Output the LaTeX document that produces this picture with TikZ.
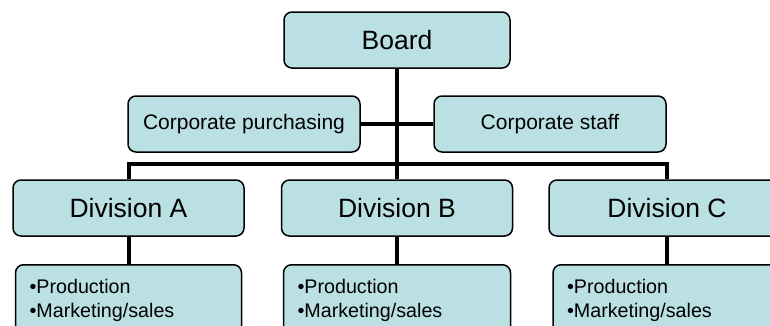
\documentclass[tikz,border=0pt]{standalone}
\usepackage{fontspec}
\setmainfont{Liberation Sans}
\usetikzlibrary{backgrounds}
\definecolor{boxfill}{HTML}{BAE0E3}
\begin{document}
\begin{tikzpicture}[x=1pt,y=-1pt,
  orgbox/.style={draw=black, line width=1.5pt, fill=boxfill, rounded corners=8pt,
    minimum height=56pt, inner sep=0pt, font=\fontsize{26.5}{30}\selectfont},
  corpbox/.style={orgbox, font=\fontsize{21}{25}\selectfont},
  listbox/.style={draw=black, line width=1.5pt, fill=boxfill, rounded corners=8pt,
    minimum height=72pt, inner xsep=14pt, inner ysep=0pt, anchor=north, align=left,
    font=\fontsize{19.7}{24}\selectfont},
  conn/.style={line width=4pt, draw=black}]
\useasboundingbox (0,0) rectangle (770,325);
\clip (0,0) rectangle (770,325);
% nodes
\node[orgbox, minimum width=226pt] (board) at (397,40) {Board};
\node[corpbox, minimum width=232pt] (purch) at (244,124) {Corporate purchasing};
\node[corpbox, minimum width=232pt] (staff) at (550,124) {Corporate staff};
\node[orgbox, minimum width=231pt] (divA) at (128.5,208) {Division A};
\node[orgbox, minimum width=231pt] (divB) at (397,208) {Division B};
\node[orgbox, minimum width=236pt] (divC) at (667,208) {Division C};
\node[listbox, text width=198pt] (listA) at (128.5,264) {•Production\\•Marketing/sales};
\node[listbox, text width=199pt] (listB) at (397,264) {•Production\\•Marketing/sales};
\node[listbox, text width=200pt] (listC) at (667,264) {•Production\\•Marketing/sales};
% connectors
\coordinate (busL) at (divA.north |- 0,164);
\coordinate (busR) at (divC.north |- 0,164);
\begin{scope}[on background layer]
\draw[conn] (board.south) -- (divB.north);
\draw[conn] (purch.east) -- (staff.west);
\draw[conn] (divA.north) -- (busL) -- (busR) -- (divC.north);
\draw[conn] (divA.south) -- (listA.north);
\draw[conn] (divB.south) -- (listB.north);
\draw[conn] (divC.south) -- (listC.north);
\end{scope}
\end{tikzpicture}
\end{document}
